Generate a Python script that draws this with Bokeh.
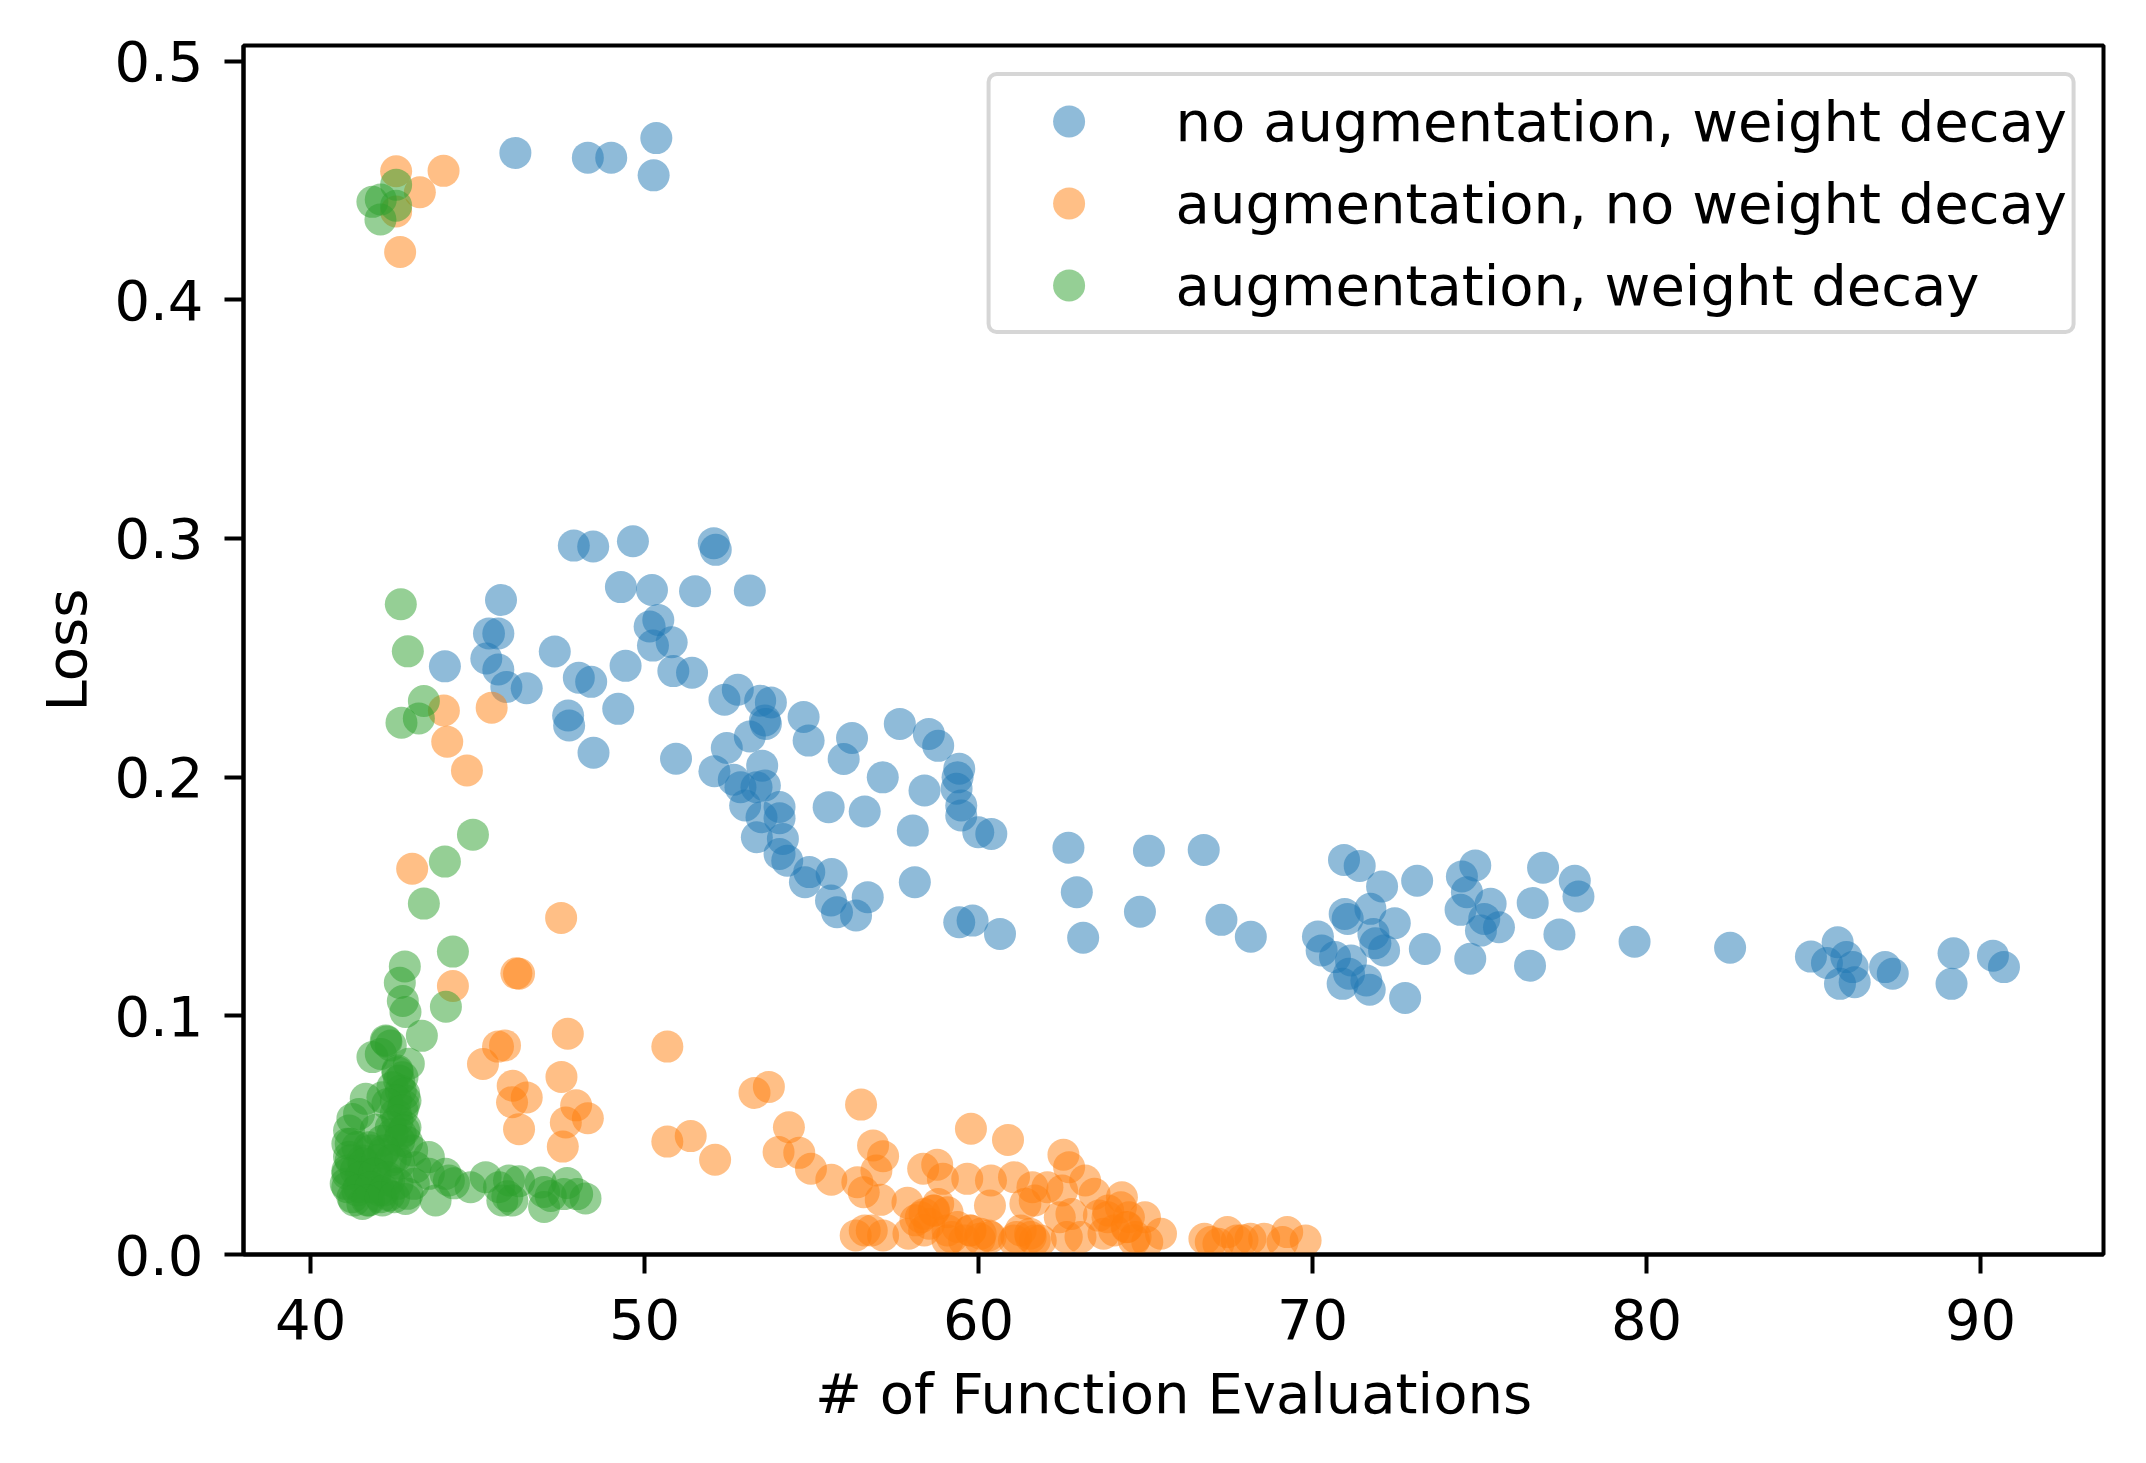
from bokeh.plotting import figure
from bokeh.models import FixedTicker, NumeralTickFormatter, Legend, LegendItem, Range1d
from bokeh.embed import file_html
from bokeh.resources import INLINE

series_names = ["no augmentation, weight decay", "augmentation, no weight decay", "augmentation, weight decay"]
series_colors = ["#1f77b4", "#ff7f0e", "#2ca02c"]

blue_x = [46.13, 48.30, 49.00, 50.35, 50.27,
          47.88, 48.46, 49.65, 52.07, 52.13, 49.29, 50.22, 51.51, 53.15,
          50.15, 50.41, 50.25, 50.81, 47.31, 48.03, 48.40, 49.43, 50.86, 51.42,
          47.71, 47.74, 49.21, 48.47, 50.94, 52.39, 52.79, 53.46, 53.78, 53.60, 53.63,
          53.15, 54.76, 54.91, 56.21, 57.64, 58.51, 58.79, 52.46, 52.09, 52.67, 53.52,
          52.87, 53.35, 53.60, 53.01, 54.04, 53.50, 54.04, 53.36, 54.14, 54.04, 54.27,
          54.93, 54.80, 55.60, 55.58, 55.76, 56.33, 56.68, 55.51, 56.59, 57.13, 58.03,
          58.09, 58.38, 55.96, 59.42, 59.37, 59.34, 59.48, 59.48, 59.99, 60.38,
          59.42, 59.82, 60.64,
          45.70, 45.34, 45.62, 44.02, 45.26, 45.62, 45.86, 46.47,
          62.69, 62.94, 63.13, 65.10, 64.83, 66.74, 67.27, 68.15,
          70.94, 71.41, 72.08, 73.13, 70.96, 71.73, 71.05, 72.46, 70.16, 70.27, 70.67,
          71.15, 71.82, 71.88, 72.14, 73.36, 70.90, 71.09, 71.71, 72.77, 71.61,
          74.87, 74.47, 74.62, 74.43, 75.33, 75.14, 75.58, 75.04, 74.72,
          76.90, 77.85, 77.96, 76.59, 77.39, 76.51, 79.64, 82.50,
          84.92, 85.72, 85.40, 85.98, 86.17, 85.79, 86.23, 87.14, 87.37,
          89.19, 89.13, 90.37, 90.70]
blue_y = [0.4615, 0.4595, 0.4595, 0.4677, 0.4521,
          0.2970, 0.2966, 0.2988, 0.2980, 0.2952, 0.2796, 0.2784, 0.2779, 0.2782,
          0.2631, 0.2658, 0.2551, 0.2565, 0.2526, 0.2416, 0.2399, 0.2466, 0.2444, 0.2437,
          0.2258, 0.2216, 0.2286, 0.2102, 0.2077, 0.2324, 0.2366, 0.2320, 0.2313, 0.2237, 0.2223,
          0.2170, 0.2252, 0.2153, 0.2164, 0.2223, 0.2181, 0.2131, 0.2122, 0.2025, 0.1989, 0.2048,
          0.1958, 0.1958, 0.1965, 0.1881, 0.1875, 0.1832, 0.1828, 0.1748, 0.1741, 0.1678, 0.1650,
          0.1602, 0.1560, 0.1594, 0.1483, 0.1434, 0.1420, 0.1497, 0.1874, 0.1856, 0.1999, 0.1776,
          0.1560, 0.1944, 0.2076, 0.2035, 0.1999, 0.1951, 0.1881, 0.1839, 0.1769, 0.1762,
          0.1392, 0.1399, 0.1343,
          0.2742, 0.2602, 0.2602, 0.2464, 0.2497, 0.2451, 0.2378, 0.2372,
          0.1704, 0.1518, 0.1327, 0.1691, 0.1436, 0.1695, 0.1402, 0.1331,
          0.1653, 0.1628, 0.1542, 0.1566, 0.1427, 0.1448, 0.1406, 0.1388, 0.1332, 0.1274, 0.1246,
          0.1232, 0.1343, 0.1304, 0.1274, 0.1280, 0.1134, 0.1176, 0.1109, 0.1075, 0.1148,
          0.1630, 0.1584, 0.1518, 0.1444, 0.1469, 0.1406, 0.1371, 0.1357, 0.1239,
          0.1620, 0.1566, 0.1500, 0.1473, 0.1341, 0.1210, 0.1310, 0.1285,
          0.1248, 0.1308, 0.1221, 0.1246, 0.1204, 0.1134, 0.1141, 0.1204, 0.1176,
          0.1262, 0.1134, 0.1252, 0.1204]

orange_x = [42.56, 43.98, 43.27, 42.56, 42.68,
            43.99, 45.42, 44.09, 44.68, 43.04, 47.50, 46.16, 46.24, 44.26, 47.70,
            45.61, 45.82, 45.16, 47.51, 46.05, 46.47, 46.03, 47.95, 48.30, 47.64, 46.24, 47.55,
            50.68, 53.29, 53.72, 50.68, 51.38, 52.11, 56.48, 54.32, 54.01, 54.63, 54.98, 55.59,
            59.77, 60.88, 56.84, 57.14, 56.94, 56.37, 56.56, 57.07, 57.87, 58.34, 58.76, 58.93,
            59.66, 60.34, 60.37, 61.06, 62.54, 62.71, 63.19, 61.61, 62.06, 61.40, 62.50, 63.47,
            64.29, 62.43, 62.78, 63.88, 64.50, 64.98, 65.46, 56.32, 56.59, 56.80, 57.14, 57.90,
            58.38, 58.65, 59.07, 59.20, 59.75, 60.03, 60.30, 61.13, 61.54, 61.68, 62.64, 63.05,
            63.74, 64.43, 64.70, 65.05, 66.76, 67.45, 67.18, 67.73, 68.14, 68.55, 69.24, 69.79,
            69.10, 58.52, 58.11, 58.79, 61.68, 63.60,
            58.27, 58.67, 58.37, 59.07, 59.37, 59.76, 60.06, 59.07, 59.57, 60.36, 61.26, 61.56,
            61.06, 61.86, 63.86, 64.06, 64.45, 64.65, 64.26, 66.95, 67.90]
orange_y = [0.4538, 0.4540, 0.4450, 0.4370, 0.4200,
            0.2279, 0.2291, 0.2148, 0.2028, 0.1616, 0.1410, 0.1178, 0.1176, 0.1125, 0.0925,
            0.0871, 0.0876, 0.0798, 0.0744, 0.0707, 0.0658, 0.0638, 0.0625, 0.0571, 0.0553, 0.0525, 0.0452,
            0.0871, 0.0677, 0.0702, 0.0473, 0.0496, 0.0397, 0.0628, 0.0533, 0.0429, 0.0426, 0.0359, 0.0313,
            0.0527, 0.0480, 0.0457, 0.0412, 0.0352, 0.0303, 0.0261, 0.0229, 0.0217, 0.0359, 0.0376, 0.0317,
            0.0317, 0.0205, 0.0310, 0.0324, 0.0418, 0.0366, 0.0310, 0.0282, 0.0282, 0.0213, 0.0268, 0.0254,
            0.0240, 0.0156, 0.0170, 0.0184, 0.0156, 0.0156, 0.0087, 0.0080, 0.0101, 0.0101, 0.0080, 0.0087,
            0.0170, 0.0184, 0.0177, 0.0073, 0.0101, 0.0066, 0.0080, 0.0073, 0.0087, 0.0059, 0.0073, 0.0073,
            0.0087, 0.0114, 0.0073, 0.0052, 0.0066, 0.0094, 0.0045, 0.0059, 0.0066, 0.0066, 0.0094, 0.0059,
            0.0052, 0.0129, 0.0143, 0.0212, 0.0226, 0.0163,
            0.0156, 0.0184, 0.0101, 0.0101, 0.0115, 0.0101, 0.0087, 0.0059, 0.0059, 0.0073, 0.0101, 0.0073,
            0.0059, 0.0059, 0.0156, 0.0101, 0.0115, 0.0059, 0.0198, 0.0052, 0.0060]

green_x = [41.85, 42.10, 42.09, 42.56, 42.56,
           42.70, 42.91, 43.39, 42.72, 43.24, 44.86, 44.02, 43.39, 44.26, 42.82, 42.67, 42.76,
           42.84, 44.05, 43.33, 42.27,
           42.25, 42.40, 41.85, 42.10, 42.94, 42.60, 42.65, 42.70, 41.65, 42.84, 42.15, 42.79,
           41.25, 41.45, 42.55, 41.15, 42.84, 42.70, 41.20, 42.89, 43.04, 41.15, 41.55, 42.15,
           42.55, 43.54, 41.10, 41.65, 42.65, 43.14, 41.05, 41.45, 42.05, 41.25, 41.75, 42.35,
           42.84, 43.09, 43.54, 43.74, 44.04, 44.14, 44.79, 45.24, 45.64, 45.74, 45.94,
           41.95, 42.15, 41.75, 42.45, 41.35, 41.95, 42.35, 42.15, 41.55,
           44.29, 45.89, 46.24, 46.04, 46.89, 46.99, 46.99, 47.19, 47.58, 47.98, 48.23, 47.68,
           42.60, 42.75, 42.45, 42.80, 42.55, 42.30, 42.75, 42.60, 42.40, 42.80, 42.65,
           41.10, 41.40, 41.80, 42.20, 41.20, 41.60, 42.00, 42.40, 41.10, 41.50, 41.90, 42.30,
           41.10, 41.40, 41.80, 42.20, 42.60, 41.30, 41.70, 42.10, 42.50, 42.90]
green_y = [0.4410, 0.4420, 0.4336, 0.4394, 0.4482,
           0.2724, 0.2527, 0.2319, 0.2228, 0.2246, 0.1759, 0.1646, 0.1470, 0.1269, 0.1207, 0.1138, 0.1062,
           0.1016, 0.1038, 0.0916, 0.0892,
           0.0897, 0.0876, 0.0827, 0.0840, 0.0799, 0.0764, 0.0729, 0.0687, 0.0652, 0.0645, 0.0659, 0.0624,
           0.0568, 0.0589, 0.0589, 0.0519, 0.0533, 0.0505, 0.0464, 0.0471, 0.0436, 0.0409, 0.0394, 0.0422,
           0.0408, 0.0408, 0.0352, 0.0338, 0.0380, 0.0366, 0.0296, 0.0282, 0.0268, 0.0240, 0.0226, 0.0247,
           0.0233, 0.0296, 0.0338, 0.0226, 0.0338, 0.0310, 0.0282, 0.0324, 0.0282, 0.0226, 0.0310,
           0.0523, 0.0477, 0.0449, 0.0505, 0.0352, 0.0338, 0.0310, 0.0226, 0.0212,
           0.0298, 0.0244, 0.0307, 0.0226, 0.0302, 0.0262, 0.0199, 0.0245, 0.0253, 0.0253, 0.0235, 0.0300,
           0.0771, 0.0743, 0.0701, 0.0673, 0.0645, 0.0631, 0.0603, 0.0561, 0.0533, 0.0519, 0.0477,
           0.0464, 0.0450, 0.0436, 0.0436, 0.0394, 0.0380, 0.0394, 0.0394, 0.0338, 0.0324, 0.0338, 0.0324,
           0.0282, 0.0268, 0.0282, 0.0268, 0.0296, 0.0226, 0.0226, 0.0240, 0.0240, 0.0254]

x_ticks = [40, 50, 60, 70, 80, 90]
y_ticks = [0.0, 0.1, 0.2, 0.3, 0.4, 0.5]

FONT = "DejaVu Sans"
FS = "56px"

p = figure(width=2130, height=1445, output_backend="svg", toolbar_location=None,
           x_range=Range1d(37.99, 93.68), y_range=Range1d(0.0, 0.5065),
           min_border_left=243, min_border_right=27, min_border_top=45, min_border_bottom=191)
p.xgrid.visible = False
p.ygrid.visible = False
p.outline_line_color = "black"
p.outline_line_width = 4
p.background_fill_color = "white"
p.border_fill_color = "white"

items = []
for xs, ys, name, col in [(blue_x, blue_y, series_names[0], series_colors[0]),
                          (orange_x, orange_y, series_names[1], series_colors[1]),
                          (green_x, green_y, series_names[2], series_colors[2])]:
    r = p.scatter(xs, ys, size=32, fill_color=col, fill_alpha=0.5, line_color=None)
    items.append(LegendItem(label=name, renderers=[r]))

for ax in (p.xaxis[0], p.yaxis[0]):
    ax.axis_line_width = 4
    ax.major_tick_line_width = 4
    ax.major_tick_out = 19
    ax.major_tick_in = 0
    ax.minor_tick_out = 0
    ax.minor_tick_in = 0
    ax.major_label_text_font = FONT
    ax.major_label_text_font_size = FS
    ax.major_label_text_color = "black"
    ax.axis_label_text_font = FONT
    ax.axis_label_text_font_size = FS
    ax.axis_label_text_font_style = "normal"
    ax.axis_label_text_color = "black"

p.xaxis[0].ticker = FixedTicker(ticks=x_ticks)
p.yaxis[0].ticker = FixedTicker(ticks=y_ticks)
p.yaxis[0].formatter = NumeralTickFormatter(format="0.0")
p.xaxis[0].axis_label = "# of Function Evaluations"
p.yaxis[0].axis_label = "Loss"
p.xaxis[0].major_label_standoff = 25
p.xaxis[0].axis_label_standoff = 19
p.yaxis[0].major_label_standoff = 21
p.yaxis[0].axis_label_standoff = 12

legend = Legend(items=items, location="top_right", margin=27, padding=5, spacing=2,
                glyph_width=146, glyph_height=80, label_standoff=34,
                label_text_font=FONT, label_text_font_size=FS, label_text_color="black",
                label_height=60,
                border_line_color="#cccccc", border_line_width=4, border_line_alpha=0.8,
                background_fill_color="white", background_fill_alpha=0.8)
try:
    legend.border_radius = 10
except Exception:
    pass
p.add_layout(legend)

open("out.html", "w").write(file_html(p, INLINE))
